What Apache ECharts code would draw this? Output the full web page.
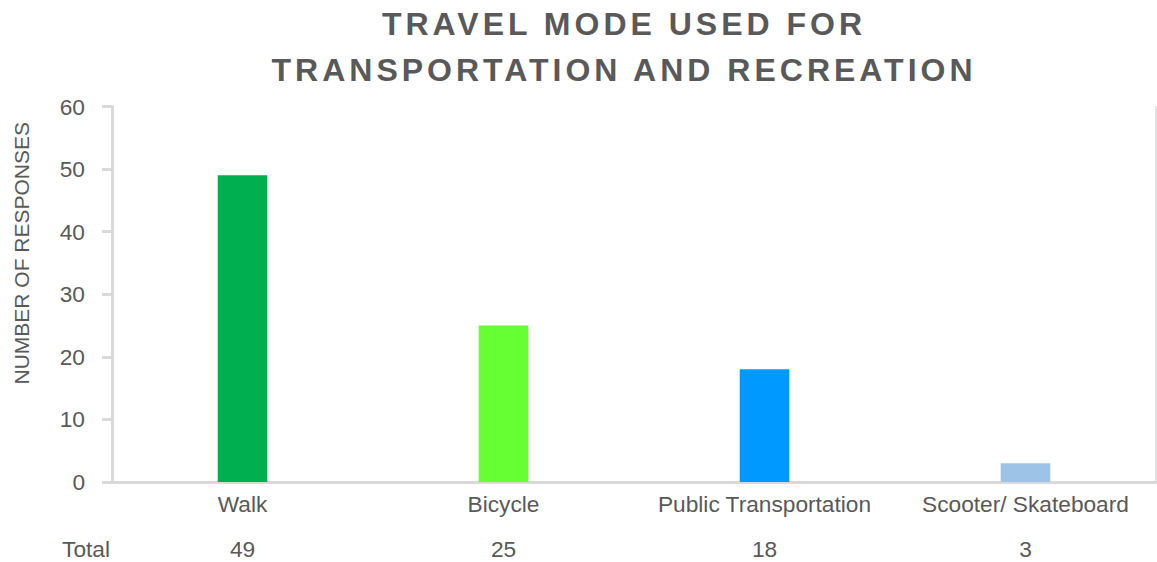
<!DOCTYPE html>
<html>
<head>
<meta charset="utf-8">
<script src="https://cdn.jsdelivr.net/npm/echarts@6/dist/echarts.min.js"></script>
<style>
  html, body { margin: 0; padding: 0; background: #ffffff; }
  #chart { width: 1157px; height: 562px; }
  #chart text[style*="32px"] { letter-spacing: 4px; }
</style>
</head>
<body>
<div id="chart"></div>
<script>
var titleText = 'TRAVEL MODE USED FOR\nTRANSPORTATION AND RECREATION';
var yAxisTitle = 'NUMBER OF RESPONSES';
var categories = ['Walk', 'Bicycle', 'Public Transportation', 'Scooter/ Skateboard'];
var responses = [49, 25, 18, 3];
var tableRowLabel = 'Total';
var yTicks = { min: 0, max: 60, interval: 10 };

var palette = ['#00B050', '#66FF33', '#0099FF', '#9DC3E6'];
var textColor = '#595959';
var lineColor = '#D9D9D9';
var font = 'Liberation Sans, Arial, sans-serif';

var chart = echarts.init(document.getElementById('chart'), null, { renderer: 'svg' });
chart.setOption({
  backgroundColor: '#ffffff',
  animation: false,
  title: {
    text: titleText,
    left: 624,
    top: 1,
    padding: 0,
    textAlign: 'center',
    textStyle: {
      fontFamily: font,
      fontSize: 32,
      fontWeight: 'bold',
      color: textColor,
      lineHeight: 46
    }
  },
  grid: { left: 112, right: 1, top: 106.5, bottom: 80, containLabel: false },
  xAxis: [
    {
      type: 'category',
      data: categories,
      position: 'bottom',
      axisLine: { show: true, lineStyle: { color: lineColor, width: 3 } },
      axisTick: { show: false },
      axisLabel: {
        color: textColor, fontFamily: font, fontSize: 22.7,
        margin: 22, verticalAlign: 'middle', interval: 0
      },
      splitLine: { show: false }
    },
    {
      type: 'category',
      data: categories,
      position: 'top',
      axisLine: { show: true, lineStyle: { color: lineColor, width: 3 } },
      axisTick: { show: false },
      axisLabel: { show: false },
      splitLine: { show: false }
    },
    {
      type: 'category',
      data: responses.map(function (v) { return String(v); }),
      position: 'bottom',
      offset: 67,
      name: tableRowLabel,
      nameLocation: 'start',
      nameGap: 2,
      nameTextStyle: { color: textColor, fontFamily: font, fontSize: 22.7, verticalAlign: 'middle', align: 'right' },
      axisLine: { show: false },
      axisTick: { show: false },
      axisLabel: {
        color: textColor, fontFamily: font, fontSize: 22.7,
        margin: 0, verticalAlign: 'middle', interval: 0
      },
      splitLine: { show: false }
    }
  ],
  yAxis: [
    {
      type: 'value',
      min: yTicks.min,
      max: yTicks.max,
      interval: yTicks.interval,
      position: 'left',
      name: yAxisTitle,
      nameLocation: 'middle',
      nameRotate: 90,
      nameGap: 80,
      nameTextStyle: { color: textColor, fontFamily: font, fontSize: 21, padding: [0, 0, 0, 82] },
      axisLine: { show: true, lineStyle: { color: lineColor, width: 3 } },
      axisTick: { show: true, length: 10, lineStyle: { color: lineColor, width: 3 } },
      axisLabel: { color: textColor, fontFamily: font, fontSize: 22.7, margin: 27 },
      splitLine: { show: false }
    },
    {
      type: 'value',
      min: yTicks.min,
      max: yTicks.max,
      interval: yTicks.interval,
      position: 'right',
      axisLine: { show: true, lineStyle: { color: lineColor, width: 1.5 } },
      axisTick: { show: false },
      axisLabel: { show: false },
      splitLine: { show: false }
    }
  ],
  series: [
    {
      type: 'bar',
      xAxisIndex: 0,
      yAxisIndex: 0,
      data: responses,
      barWidth: '19%',
      itemStyle: {
        color: function (p) { return palette[p.dataIndex % palette.length]; }
      }
    }
  ]
});
</script>
</body>
</html>
